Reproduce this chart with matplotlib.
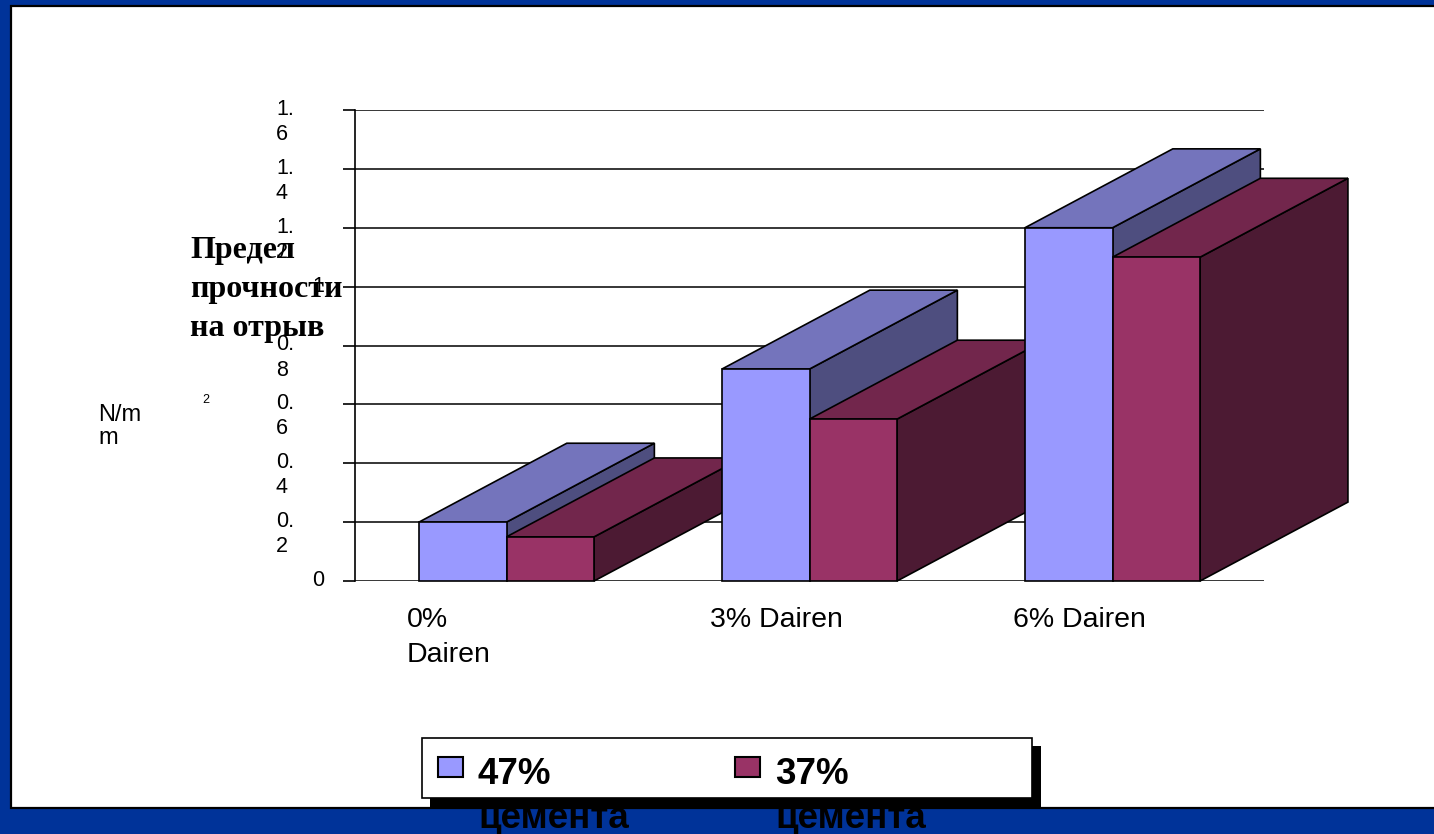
import matplotlib.pyplot as plt
from matplotlib.patches import Polygon, Rectangle

# data
categories = ['0%\nDairen', '3% Dairen', '6% Dairen']
series_names = ['47%\nцемента', '37%\nцемента']
values_47 = [0.20, 0.72, 1.20]
values_37 = [0.15, 0.55, 1.10]
y_ticks = [0, 0.2, 0.4, 0.6, 0.8, 1.0, 1.2, 1.4, 1.6]
y_tick_labels = ['0', '0.\n2', '0.\n4', '0.\n6', '0.\n8', '1', '1.\n2', '1.\n4', '1.\n6']
y_title = 'Предел\nпрочности\nна отрыв'
unit_label = 'N/m\nm'

# colours: front, top, side
colors = [('#9999FF', '#7474BC', '#4E4E7F'),
          ('#993366', '#72264C', '#4C1A33')]

W, H = 1434, 834


def fx(px):
    return px / W


def fy(py):
    return 1 - py / H


fig = plt.figure(figsize=(W / 100, H / 100), dpi=100)
fig.patch.set_facecolor('#003399')
# white slide area with black edge
fig.add_artist(Rectangle((fx(11), fy(808)), fx(1440) - fx(11), fy(6) - fy(808),
                         transform=fig.transFigure, facecolor='white',
                         edgecolor='black', lw=1.6, zorder=-5))

ax = fig.add_axes([fx(355), fy(581), (1264 - 355) / W, (581 - 110) / H])
ax.set_facecolor('none')
ax.set_xlim(-0.5, 2.5)
ax.set_ylim(0, 1.6)
for s in ['top', 'right', 'bottom']:
    ax.spines[s].set_visible(False)
ax.spines['left'].set_linewidth(1.2)
ax.set_xticks([])
ax.set_yticks(y_ticks)
ax.set_yticklabels([])
ax.tick_params(axis='y', length=8.6, width=1.2, direction='out')
ax.yaxis.grid(True, color='black', lw=1.1, zorder=1)
ax.set_axisbelow(True)

bw = 0.289          # bar width (category units)
ddx, ddy = 0.488, 0.268   # depth offset

series = [values_47, values_37]
for i in range(len(categories)):
    for j, vals in enumerate(series):
        v = vals[i]
        x0 = i - bw + j * bw
        x1 = x0 + bw
        front, top, side = colors[j]
        kw = dict(edgecolor='black', lw=1.2, clip_on=False, zorder=3)
        ax.add_patch(Polygon([(x1, 0), (x1 + ddx, ddy), (x1 + ddx, v + ddy), (x1, v)],
                             facecolor=side, **kw))
        ax.add_patch(Polygon([(x0, v), (x1, v), (x1 + ddx, v + ddy), (x0 + ddx, v + ddy)],
                             facecolor=top, **kw))
        ax.add_patch(Polygon([(x0, 0), (x1, 0), (x1, v), (x0, v)],
                             facecolor=front, **kw))

# y tick labels (wrapped like the original); multi-line text is anchored
# on the baseline of its last line
for v, lab in zip(y_ticks, y_tick_labels):
    if '\n' in lab:
        ax.annotate(lab, xy=(0, v), xycoords=('axes fraction', 'data'),
                    xytext=(-79, -30), textcoords='offset pixels',
                    ha='left', va='baseline', fontsize=15.5,
                    family='Liberation Sans', linespacing=1.25)
    else:
        ax.annotate(lab, xy=(0, v), xycoords=('axes fraction', 'data'),
                    xytext=(-31, -5), textcoords='offset pixels',
                    ha='right', va='baseline', fontsize=15.5,
                    family='Liberation Sans')

# category labels
for i, lab in enumerate(categories):
    dy = -81 if '\n' in lab else -46
    ax.annotate(lab, xy=(i - bw, 0), xycoords='data',
                xytext=(-12, dy), textcoords='offset pixels',
                ha='left', va='baseline', fontsize=20.5,
                family='Liberation Sans', linespacing=1.45)

# axis titles
fig.text(fx(190), fy(336), y_title, ha='left', va='baseline', fontsize=23,
         family='Liberation Serif', fontweight='bold', linespacing=1.45)
fig.text(fx(98), fy(444), unit_label, ha='left', va='baseline', fontsize=17,
         family='Liberation Sans', linespacing=1.05)
fig.text(fx(202), fy(403), '2', ha='left', va='baseline', fontsize=9,
         family='Liberation Sans')

# legend box with shadow
fig.add_artist(Rectangle((fx(430), fy(807)), fx(1041) - fx(430), fy(746) - fy(807),
                         transform=fig.transFigure, facecolor='black',
                         edgecolor='none', zorder=5))
fig.add_artist(Rectangle((fx(422), fy(798)), fx(1032) - fx(422), fy(738) - fy(798),
                         transform=fig.transFigure, facecolor='white',
                         edgecolor='black', lw=1.2, zorder=6))
marker_x = [438, 735]
text_x = [478, 775]
for j, name in enumerate(series_names):
    fig.add_artist(Rectangle((fx(marker_x[j]), fy(777)), 25 / W, 20 / H,
                             transform=fig.transFigure, facecolor=colors[j][0],
                             edgecolor='black', lw=1.5, zorder=7))
    fig.text(fx(text_x[j]), fy(828), name, ha='left', va='baseline',
             fontsize=26.5, family='Liberation Sans', fontweight='bold',
             linespacing=1.35, zorder=7)

fig.savefig('out.png', dpi=100, facecolor=fig.get_facecolor())
